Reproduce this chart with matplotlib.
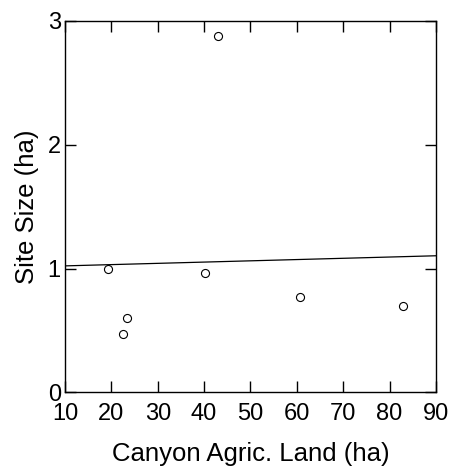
import numpy as np
import matplotlib.pyplot as plt

plt.rcParams['font.family'] = ['Liberation Sans', 'DejaVu Sans']

# canyon agricultural land (ha) vs site size (ha)
agric_land = np.array([19.2, 22.6, 23.3, 40.1, 43.0, 60.6, 82.8])
site_size = np.array([1.00, 0.47, 0.60, 0.96, 2.875, 0.77, 0.70])

x_ticks = [10, 20, 30, 40, 50, 60, 70, 80, 90]
y_ticks = [0, 1, 2, 3]

# least squares line
slope, intercept = np.polyfit(agric_land, site_size, 1)
x_fit = np.array([10, 90])
y_fit = intercept + slope * x_fit

fig = plt.figure(figsize=(4.54, 4.75), dpi=100)
ax = fig.add_axes([0.1432, 0.1737, 0.817, 0.783])

ax.plot(x_fit, y_fit, color='black', linewidth=0.9)
ax.plot(agric_land, site_size, linestyle='none', marker='o', markersize=5.8,
        markerfacecolor='white', markeredgecolor='black', markeredgewidth=0.8)

ax.set_xlim(10, 90)
ax.set_ylim(0, 3)
ax.set_xticks(x_ticks)
ax.set_yticks(y_ticks)
ax.tick_params(direction='in', length=8, width=1, top=True, right=True,
               labelsize=17, color='black')
ax.tick_params(axis='x', pad=7.5)
ax.tick_params(axis='y', pad=3)
for s in ax.spines.values():
    s.set_linewidth(1)

ax.set_xlabel('Canyon Agric. Land (ha)', fontsize=18.5, labelpad=12)
ax.set_ylabel('Site Size (ha)', fontsize=18.5, labelpad=6)

fig.savefig('out.png', dpi=100)
